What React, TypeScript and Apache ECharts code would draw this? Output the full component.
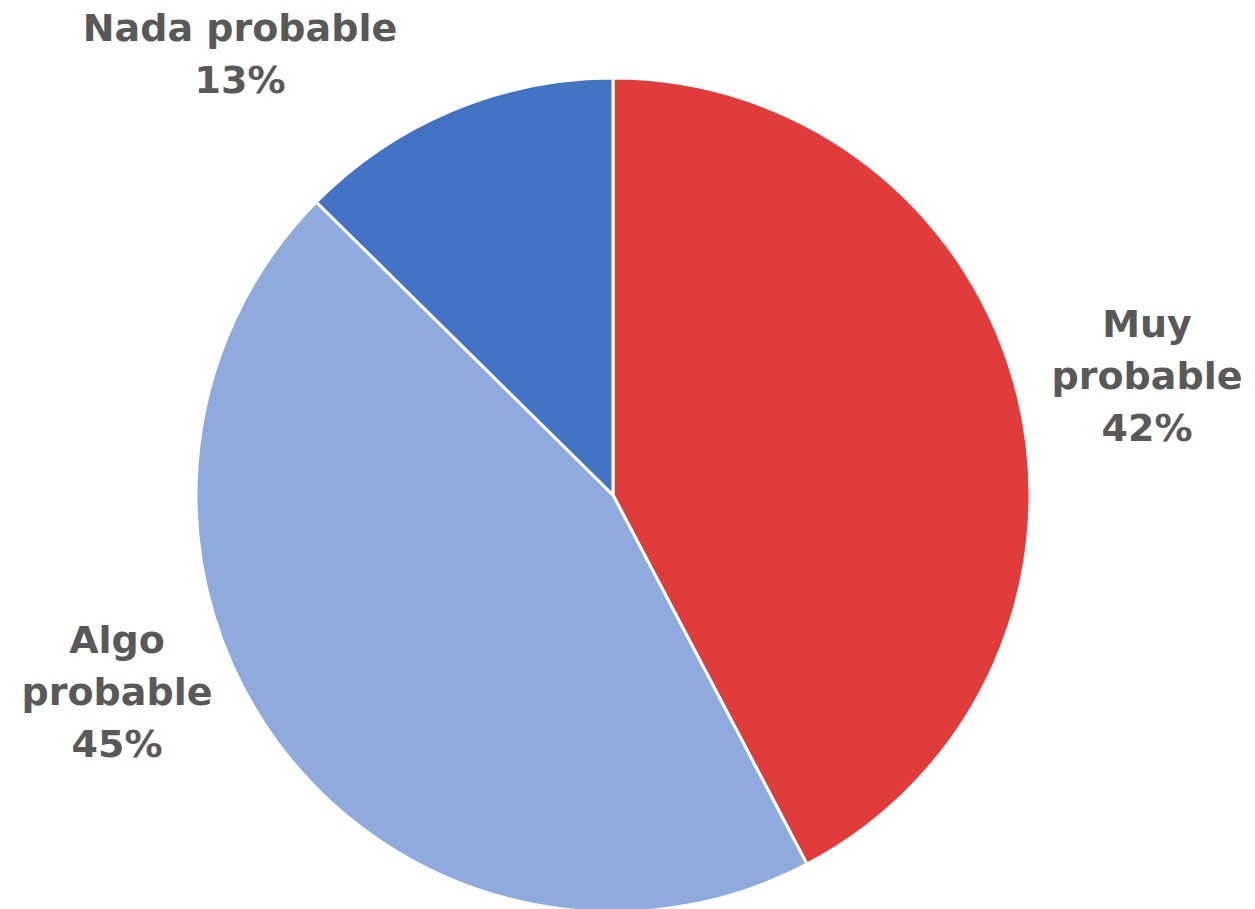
import React, { useEffect, useRef } from "react";
import * as echarts from "echarts";

const categories = ["Muy\nprobable", "Algo\nprobable", "Nada probable"];
const values = [42.3, 45.1, 12.6];
const colors = ["#E03C3C", "#8FAADC", "#4472C4"];
const labelSpots = [
  [1147, 376],
  [117, 692],
  [240, 54],
];

export default function App() {
  const ref = useRef<HTMLDivElement>(null);
  useEffect(() => {
    document.body.style.margin = "0";
    const chart = echarts.init(ref.current!, null, { renderer: "svg" });
    chart.setOption({
      animation: false,
      backgroundColor: "#ffffff",
      series: [
        {
          type: "pie",
          center: [613, 495],
          radius: 417,
          startAngle: 90,
          clockwise: true,
          data: categories.map((c, i) => ({
            name: c,
            value: values[i],
            itemStyle: { color: colors[i] },
          })),
          itemStyle: { borderColor: "#ffffff", borderWidth: 3 },
          label: {
            show: true,
            position: "outside",
            formatter: (p: any) => `${p.name}\n${Math.round(p.value)}%`,
            color: "#595959",
            fontFamily: "DejaVu Sans",
            fontWeight: "bold",
            fontSize: 38,
            lineHeight: 52,
            align: "center",
            overflow: "none",
          },
          labelLine: { show: false },
          labelLayout: (p: any) => ({
            x: labelSpots[p.dataIndex][0],
            y: labelSpots[p.dataIndex][1],
            align: "center",
            verticalAlign: "middle",
          }),
          emphasis: { disabled: true },
        },
      ],
    });
    return () => chart.dispose();
  }, []);
  return <div ref={ref} style={{ width: 1255, height: 909 }} />;
}
